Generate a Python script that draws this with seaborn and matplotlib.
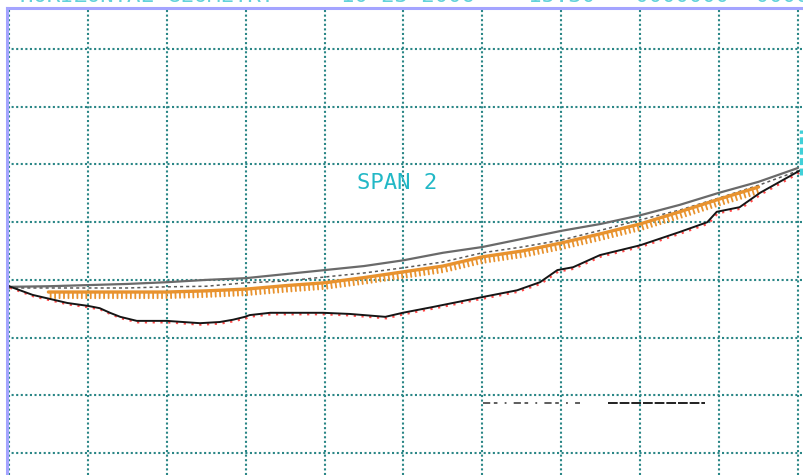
import numpy as np
import pandas as pd
import matplotlib.pyplot as plt
import matplotlib.patheffects as pe
from matplotlib.lines import Line2D
from matplotlib.transforms import offset_copy
import seaborn as sns

# stations along span 2 (grid units x10)
stations = [0, 5, 10, 15, 20, 25, 30, 35, 40, 45, 50,
            55, 60, 65, 70, 75, 80, 85, 90, 95, 100]

# design profile (solid grey)
design = [28.8, 28.9, 29.1, 29.3, 29.6, 30.0, 30.3, 31.0, 31.7, 32.4, 33.4,
          34.7, 35.7, 37.1, 38.5, 39.7, 41.2, 43.0, 45.1, 47.0, 49.4]

# tolerance profile (dotted grey)
tolerance = [28.6, 28.6, 28.6, 28.6, 28.8, 28.9, 29.5, 29.8, 30.5, 31.2, 32.1,
             33.1, 34.7, 35.7, 36.9, 38.6, 40.4, 42.1, 44.2, 46.4, 48.9]

# fitted profile (orange comb)
fit_stations = [5, 10, 15, 20, 25, 30, 35, 40, 45, 50,
                55, 60, 65, 70, 75, 80, 85, 90, 95]
fitted = [27.9, 27.9, 27.9, 27.9, 28.1, 28.4, 29.0, 29.5, 30.4, 31.4,
          32.4, 34.0, 35.0, 36.4, 38.0, 39.7, 41.8, 44.0, 46.1]

# measured profile (black with red)
meas_stations = [0, 1.4, 3.0, 5.2, 7.4, 10.0, 11.5, 12.8, 14.1, 16.2, 20.0,
                 24.2, 26.7, 28.4, 29.9, 30.5, 33.1, 39.8, 43.2, 47.7, 49.9,
                 53.7, 59.9, 64.4, 67.3, 69.5, 71.5, 74.9, 80.0, 85.0, 88.5,
                 89.7, 92.6, 95.2, 98.6, 100.3]
measured = [28.9, 28.2, 27.4, 26.7, 26.0, 25.5, 25.1, 24.3, 23.6, 22.9, 22.9,
            22.5, 22.7, 23.1, 23.6, 23.9, 24.3, 24.3, 24.1, 23.6, 24.3,
            25.3, 27.0, 28.2, 29.6, 31.7, 32.2, 34.3, 36.0, 38.3, 40.0,
            41.8, 42.6, 45.1, 47.7, 49.0]

span_label = "SPAN 2"
header = "HORIZONTAL GEOMETRY     10-23-2006    15:30   0000000  0000"
span_end = 100.4
marker_lo, marker_hi = 48.2, 56.0

sns.set_style("white")
plt.rcParams['font.family'] = ['DejaVu Sans Mono', 'DejaVu Sans']

fig = plt.figure(figsize=(8.04, 4.75), dpi=100)
ax = fig.add_axes([7 / 804, 0, 797 / 804, 467 / 475])

# grid
ax.set_xlim(-0.25, 100.76)
ax.set_ylim(-3.81, 77.12)
ax.set_xticks(np.arange(0, 101, 10))
ax.set_yticks(np.arange(0, 71, 10))
ax.grid(True, color='#2a8686', linestyle=(0, (1, 1.2)), linewidth=1.5)
ax.set_axisbelow(True)
ax.tick_params(length=0, labelleft=False, labelbottom=False)
for side in ['right', 'bottom']:
    ax.spines[side].set_visible(False)
for side in ['left', 'top']:
    ax.spines[side].set_color('#a4a4ff')
    ax.spines[side].set_linewidth(2.2)

df = pd.DataFrame({'station': stations, 'design': design, 'tolerance': tolerance})

sns.lineplot(data=df, x='station', y='design', ax=ax, color='#6a6a6a',
             linewidth=1.6, estimator=None, sort=False)
sns.lineplot(data=df, x='station', y='tolerance', ax=ax, color='#5a5a5a',
             linewidth=1.1, linestyle=(0, (2, 2)), estimator=None, sort=False)
# ticks hang below the orange line
sns.lineplot(x=fit_stations, y=fitted, ax=ax, color='#e8922e', linewidth=2.4,
             estimator=None, sort=False,
             path_effects=[pe.withTickedStroke(spacing=3.2, angle=-90,
                                               length=1.4, linewidth=1.3)])

# red shadow under measured line
shadow = offset_copy(ax.transData, fig=fig, x=1, y=-1.5, units='dots')
ax.plot(meas_stations, measured, color='#ff4a4a', linewidth=1.6,
        linestyle=(0, (1, 2.5)), transform=shadow)
sns.lineplot(x=meas_stations, y=measured, ax=ax, color='#151515',
             linewidth=1.4, estimator=None, sort=False)

# span end marker
ax.vlines(span_end, marker_lo, marker_hi, color='#40d0d8', linewidth=2.5,
          linestyle=(0, (2, 1)))

ax.text(49.2, 46.8, span_label, color='#22b8c6', fontsize=16,
        ha='center', va='center')

# legend keys without text
handles = [Line2D([], [], color='#505050', linewidth=1.3,
                  linestyle=(0, (4, 2, 2, 4, 1, 4))),
           Line2D([], [], color='#202020', linewidth=1.4,
                  linestyle=(0, (5, 1)))]
ax.legend(handles, ['', ''], ncol=2, frameon=False, handlelength=7,
          handletextpad=0, columnspacing=2, borderpad=0, borderaxespad=0,
          loc='center left', bbox_to_anchor=(0.597, 0.152))

fig.text(20 / 804, 1 - 2 / 475, header, color='#62d2da', fontsize=16,
         ha='left', va='baseline')

fig.savefig('out.png', dpi=100)
